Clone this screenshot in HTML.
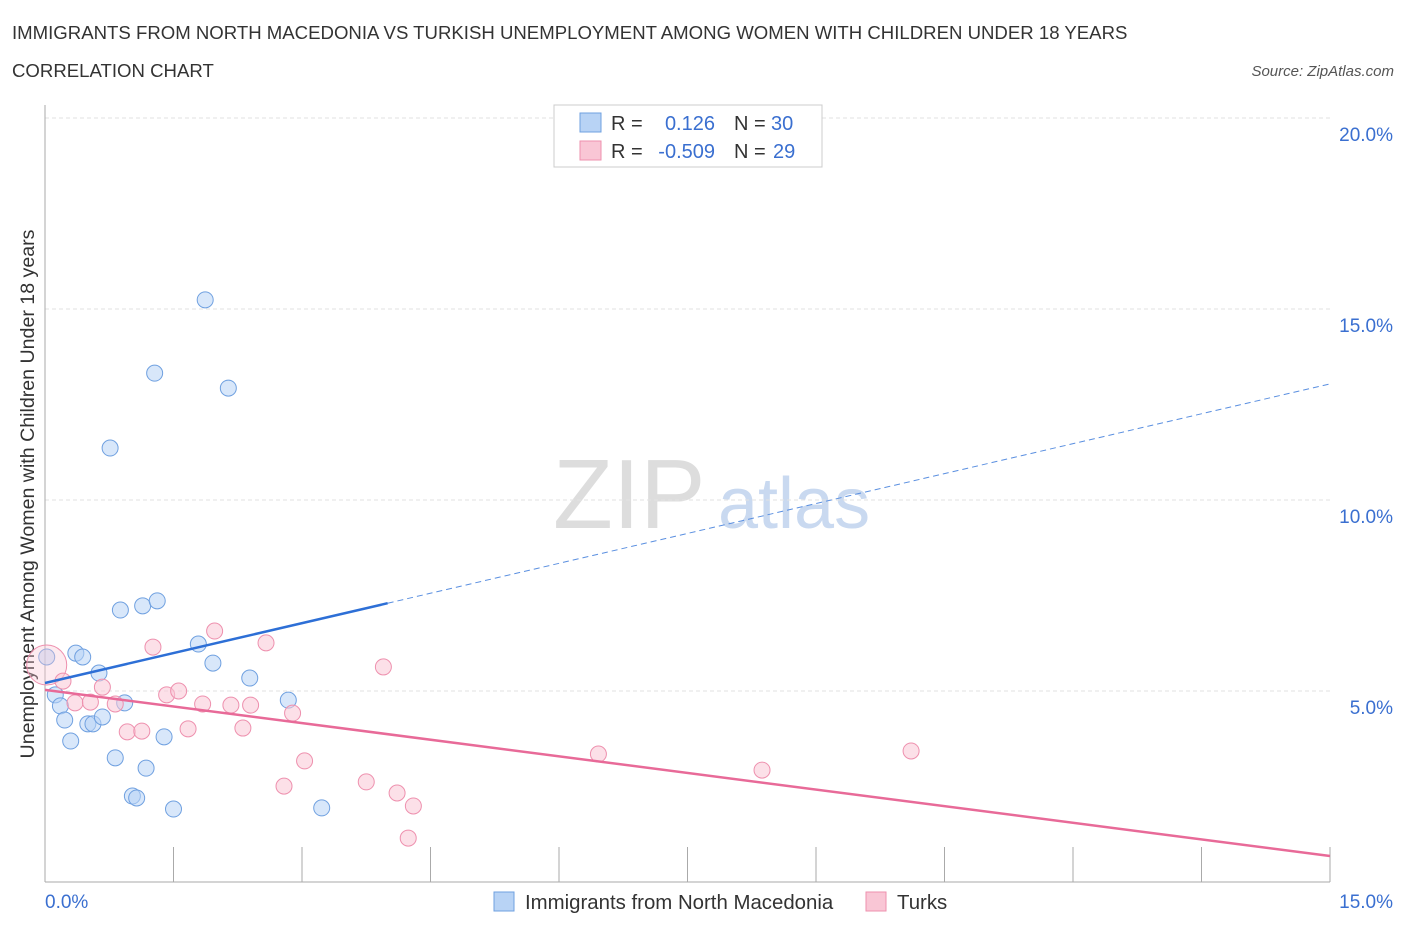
<!DOCTYPE html>
<html><head><meta charset="utf-8"><style>
body{margin:0;background:#fff;font-family:"Liberation Sans",sans-serif;}
svg text{font-family:"Liberation Sans",sans-serif;}
</style></head><body>
<svg id="chart" width="1406" height="930" xmlns="http://www.w3.org/2000/svg">
<text x="12" y="39" font-size="18.6" fill="#333">IMMIGRANTS FROM NORTH MACEDONIA VS TURKISH UNEMPLOYMENT AMONG WOMEN WITH CHILDREN UNDER 18 YEARS</text>
<text x="12" y="77" font-size="18.6" fill="#333">CORRELATION CHART</text>
<text x="1394" y="76" font-size="15" font-style="italic" fill="#555" text-anchor="end">Source: ZipAtlas.com</text>
<text x="553" y="528" font-size="98" font-family="Liberation Serif" fill="#ddd">ZIP</text>
<text x="718" y="528" font-size="72" fill="#c9d9f0">atlas</text>
<text transform="translate(34,494) rotate(-90)" font-size="19.6" fill="#333" text-anchor="middle">Unemployment Among Women with Children Under 18 years</text>
<g id="grid"></g><g id="axes"></g><g id="marks"></g>
<g>
<rect x="554" y="105" width="268" height="62" fill="#fff" stroke="#ccc"/>
<rect x="580" y="113" width="21" height="19" fill="#b8d3f5" stroke="#6fa0e0"/>
<rect x="580" y="141" width="21" height="19" fill="#f9c6d5" stroke="#ee90ae"/>
<text x="611" y="130" font-size="20" fill="#333">R =</text>
<text x="715" y="130" font-size="20" fill="#3a6fd0" text-anchor="end">0.126</text>
<text x="734" y="130" font-size="20" fill="#333">N =</text>
<text x="771" y="130" font-size="20" fill="#3a6fd0">30</text>
<text x="611" y="158" font-size="20" fill="#333">R =</text>
<text x="715" y="158" font-size="20" fill="#3a6fd0" text-anchor="end">-0.509</text>
<text x="734" y="158" font-size="20" fill="#333">N =</text>
<text x="773" y="158" font-size="20" fill="#3a6fd0">29</text>
</g>
<g>
<rect x="494" y="892" width="20" height="19" fill="#b8d3f5" stroke="#6fa0e0"/>
<text x="525" y="909" font-size="20.4" fill="#333">Immigrants from North Macedonia</text>
<rect x="866" y="892" width="20" height="19" fill="#f9c6d5" stroke="#ee90ae"/>
<text x="897" y="909" font-size="20.4" fill="#333">Turks</text>
</g>
</svg>
<script>
const blueX=[0.02,0.12,0.18,0.23,0.30,0.36,0.44,0.50,0.56,0.63,0.67,0.76,0.82,0.88,0.93,1.02,1.07,1.14,1.18,1.28,1.31,1.39,1.50,1.79,1.87,1.96,2.14,2.39,2.84,3.23];
const blueY=[5.89,4.90,4.61,4.24,3.69,5.99,5.89,4.14,4.14,5.47,4.32,11.36,3.25,7.12,4.69,2.25,2.20,7.23,2.98,13.32,7.36,3.80,1.91,6.23,15.24,5.73,12.93,5.34,4.76,1.94];
const pinkX=[0.02,0.21,0.35,0.53,0.67,0.82,0.96,1.13,1.26,1.42,1.56,1.67,1.84,1.98,2.17,2.31,2.40,2.58,2.79,2.89,3.03,3.75,3.95,4.11,4.24,4.30,6.46,8.37,10.11];
const pinkY=[5.68,5.26,4.69,4.71,5.10,4.66,3.93,3.95,6.15,4.90,5.00,4.01,4.66,6.57,4.63,4.03,4.63,6.26,2.51,4.42,3.17,2.62,5.63,2.33,1.15,1.99,3.35,2.93,3.43];
const blueTrend=[5.21,13.04];
const pinkTrend=[5.03,0.68];
const yTicks=[5,10,15,20];
const yTickLabels=["5.0%","10.0%","15.0%","20.0%"];
const xTickLabels=["0.0%","15.0%"];
const NS="http://www.w3.org/2000/svg";
const X=v=>45+v*(1285/15), Y=v=>882-v*38.2;
function mk(tag,attrs,parent){const e=document.createElementNS(NS,tag);for(const k in attrs)e.setAttribute(k,attrs[k]);document.getElementById(parent).appendChild(e);return e;}
yTicks.forEach((t,i)=>{
 const g=mk('line',{x1:45,x2:1330,y1:Y(t),y2:Y(t),stroke:'#e2e2e2','stroke-dasharray':'4,3'},'grid');
 
 
 const tx=mk('text',{x:1393,y:Y(t)+23,'font-size':19,fill:'#3a6fd0','text-anchor':'end'},'axes');
 tx.textContent=yTickLabels[i];
 
 
});
let a=mk('line',{x1:45,x2:45,y1:105,y2:882,stroke:'#aaa'},'axes');


a=mk('line',{x1:45,x2:1330,y1:882,y2:882,stroke:'#aaa'},'axes');


for(let i=0;i<=10;i++){const t=mk('line',{x1:X(i*1.5),x2:X(i*1.5),y1:847,y2:882,stroke:'#aaa'},'axes');
 
 }
[[0,45,'start'],[15,1393,'end']].forEach((d,i)=>{const t=mk('text',{x:d[1],y:908,'font-size':19,fill:'#3a6fd0','text-anchor':d[2]},'axes');t.textContent=xTickLabels[i];
 
 });
function pts(xs,ys,fill,stroke,name,bigFirst){xs.forEach((x,i)=>{const c=mk('circle',{cx:X(x),cy:Y(ys[i]),r:(bigFirst&&i===0)?20:8,fill:fill,'fill-opacity':(bigFirst&&i===0)?0.35:0.55,stroke:stroke,'stroke-width':1},'marks');
 
 });}
pts(blueX,blueY,'#b8d3f5','#6fa0e0','blue-point',false);
pts(pinkX,pinkY,'#f9c6d5','#ee90ae','pink-point',true);
const ly=(tr,x)=>tr[0]+(tr[1]-tr[0])*x/15;
let l=mk('line',{x1:X(0),y1:Y(ly(blueTrend,0)),x2:X(4),y2:Y(ly(blueTrend,4)),stroke:'#2d6fd6','stroke-width':2.5},'marks');


l=mk('line',{x1:X(4),y1:Y(ly(blueTrend,4)),x2:X(15),y2:Y(ly(blueTrend,15)),stroke:'#5a8fe0','stroke-width':1,'stroke-dasharray':'6,4'},'marks');


l=mk('line',{x1:X(0),y1:Y(ly(pinkTrend,0)),x2:X(15),y2:Y(ly(pinkTrend,15)),stroke:'#e86a98','stroke-width':2.5},'marks');


</script>
</body></html>
